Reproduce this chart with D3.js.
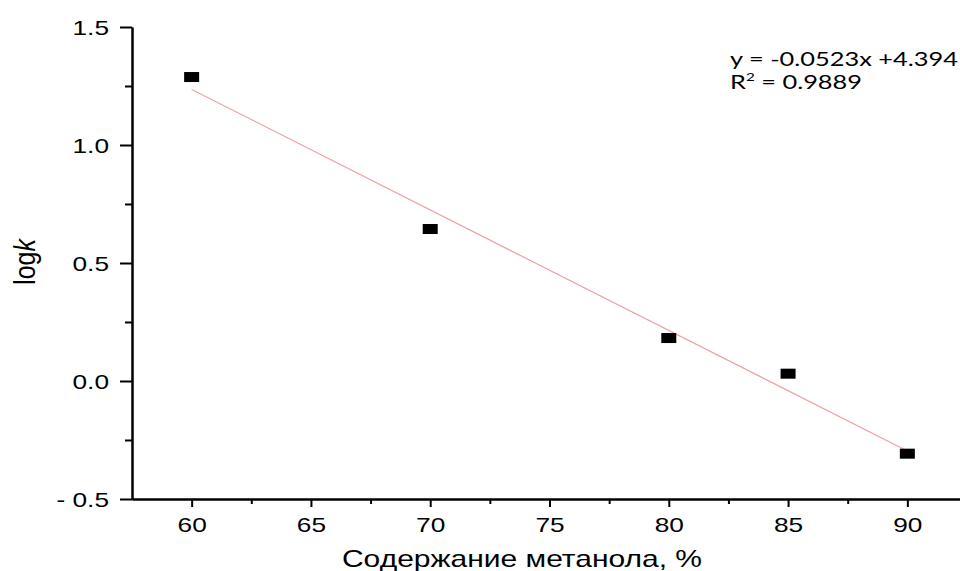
<!DOCTYPE html>
<html>
<head>
<meta charset="utf-8">
<script src="https://cdn.jsdelivr.net/npm/d3@7"></script>
<style>
  body { margin: 0; background: #fff; }
  svg { display: block; }
</style>
</head>
<body>
<svg width="960" height="571"></svg>
<script>
// methanol content, % and measured log k
const methanol = [60, 70, 80, 85, 90];
const logK = [1.288, 0.644, 0.182, 0.031, -0.308];

const xMajorTicks = [60, 65, 70, 75, 80, 85, 90];
const xMinorTicks = [62.5, 67.5, 72.5, 77.5, 82.5, 87.5, 92.5];
const yMajorTicks = [-0.5, 0.0, 0.5, 1.0, 1.5];
const yMinorTicks = [-0.25, 0.25, 0.75, 1.25];

const equationText = 'y = -0.0523x +4.394';
const r2Value = '0.9889';

// style values
const axisFont = '"Liberation Sans", Arial, sans-serif';
const stretch = 1.25; // the original picture is stretched horizontally
const fitColor = '#eba3a3';

const svg = d3.select('svg');

const x = d3.scaleLinear().domain([57.5, 92.5]).range([132, 967]);
const y = d3.scaleLinear().domain([-0.5, 1.5]).range([499, 27]);

// least squares fit of the points
const mx = d3.mean(methanol), my = d3.mean(logK);
let sxy = 0, sxx = 0;
methanol.forEach((v, i) => {
  sxy += (v - mx) * (logK[i] - my);
  sxx += (v - mx) * (v - mx);
});
const slope = sxy / sxx;
const intercept = my - slope * mx;
const fitX = [d3.min(methanol), d3.max(methanol)];

svg.append('path')
  .datum(fitX)
  .attr('fill', 'none')
  .attr('stroke', fitColor)
  .attr('stroke-width', 1.2)
  .attr('d', d3.line().x((d) => x(d)).y((d) => y(slope * d + intercept)));

// axes
const fmtY = (d) => d3.format('.1f')(d).replace('−', '- ');

const xAxisMinor = svg.append('g')
  .attr('transform', `translate(0,${y(-0.5)})`)
  .call(d3.axisBottom(x).tickValues(xMinorTicks).tickSize(5).tickSizeOuter(0).tickFormat(''));
const xAxis = svg.append('g')
  .attr('transform', `translate(0,${y(-0.5)})`)
  .call(d3.axisBottom(x).tickValues(xMajorTicks).tickSize(8).tickSizeOuter(0).tickFormat(d3.format('d')));

const yAxisMinor = svg.append('g')
  .attr('transform', `translate(${x(57.5)},0)`)
  .call(d3.axisLeft(y).tickValues(yMinorTicks).tickSize(7).tickSizeOuter(0).tickFormat(''));
const yAxis = svg.append('g')
  .attr('transform', `translate(${x(57.5)},0)`)
  .call(d3.axisLeft(y).tickValues(yMajorTicks).tickSize(12).tickSizeOuter(0).tickFormat(fmtY));

[xAxis, xAxisMinor, yAxis, yAxisMinor].forEach((g) => {
  g.select('.domain').attr('stroke', '#000').attr('stroke-width', 2);
  g.selectAll('.tick line').attr('stroke', '#000').attr('stroke-width', 2);
});

xAxis.selectAll('.tick text')
  .attr('font-family', axisFont)
  .attr('font-size', 21)
  .attr('fill', '#000')
  .attr('y', 0)
  .attr('dy', 0)
  .attr('transform', `translate(0,33) scale(${stretch},1)`);

yAxis.selectAll('.tick text')
  .attr('font-family', axisFont)
  .attr('font-size', 21)
  .attr('fill', '#000')
  .attr('x', 0)
  .attr('dy', '0.35em')
  .attr('transform', `translate(-23,0) scale(${stretch},1)`);

// points
svg.append('g')
  .selectAll('rect')
  .data(methanol)
  .join('rect')
  .attr('x', (d) => x(d) - 7.5)
  .attr('y', (d, i) => y(logK[i]) - 5)
  .attr('width', 15)
  .attr('height', 10)
  .attr('fill', '#000');

// axis titles
svg.append('text')
  .attr('font-family', axisFont)
  .attr('font-size', 24)
  .attr('fill', '#000')
  .attr('text-anchor', 'middle')
  .attr('transform', `translate(522,567) scale(${stretch},1)`)
  .text('Содержание метанола, %');

const yTitle = svg.append('text')
  .attr('font-family', axisFont)
  .attr('font-size', 25)
  .attr('fill', '#000')
  .attr('text-anchor', 'middle')
  .attr('transform', `translate(35,262) scale(1.15,1) rotate(-90)`);
yTitle.append('tspan').text('log');
yTitle.append('tspan').attr('font-style', 'italic').text('k');

// regression equation
svg.append('text')
  .attr('x', 730)
  .attr('y', 66)
  .attr('font-family', 'Lato, "Open Sans", sans-serif')
  .attr('font-size', 20)
  .attr('fill', '#000')
  .attr('textLength', 228)
  .attr('lengthAdjust', 'spacingAndGlyphs')
  .text(equationText);

const r2 = svg.append('text')
  .attr('x', 730)
  .attr('y', 89)
  .attr('font-family', 'Lato, "Open Sans", sans-serif')
  .attr('font-size', 20)
  .attr('fill', '#000')
  .attr('textLength', 132)
  .attr('lengthAdjust', 'spacingAndGlyphs');
r2.append('tspan').text('R');
r2.append('tspan').attr('font-size', 12).attr('dy', -8).text('2');
r2.append('tspan').attr('dy', 8).text(' = ' + r2Value);
</script>
</body>
</html>
